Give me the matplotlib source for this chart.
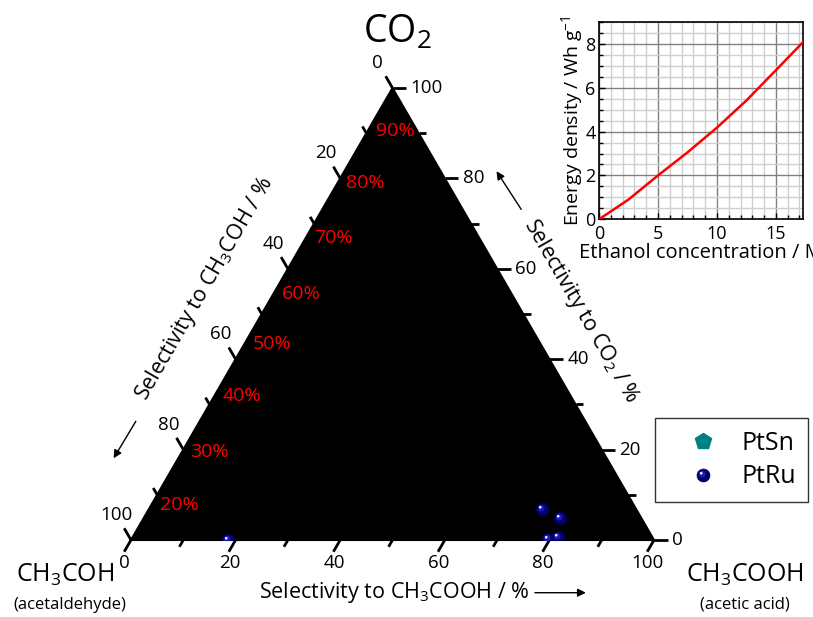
import numpy as np
import matplotlib
matplotlib.use("Agg")
import matplotlib.pyplot as plt
from matplotlib import font_manager
from matplotlib.path import Path
from matplotlib.patches import Polygon
from matplotlib.lines import Line2D
from matplotlib.ticker import MultipleLocator

available = {f.name for f in font_manager.fontManager.ttflist}
base_font = "Liberation Sans Narrow" if "Liberation Sans Narrow" in available else "Open Sans"
plt.rcParams["font.family"] = [base_font, "DejaVu Sans"]
plt.rcParams["mathtext.fontset"] = "custom"
plt.rcParams["mathtext.rm"] = base_font
plt.rcParams["mathtext.it"] = base_font
plt.rcParams["mathtext.bf"] = base_font

# ---- ternary data: selectivities in % (acetic acid, CO2; acetaldehyde is the rest)
ptru_acetic = [18.5, 75.1, 79.7, 79.6, 81.4]
ptru_co2 = [0.0, 6.8, 4.8, 0.2, 0.6]

# faradaic-efficiency annotations along the acetaldehyde edge (CO2 level of each label)
eff_labels = ["90%", "80%", "70%", "60%", "50%", "40%", "30%", "20%"]
eff_co2 = [90.5, 79.0, 66.9, 54.5, 43.3, 31.8, 19.4, 7.7]

tick_values = list(range(0, 101, 10))
label_values = [0, 20, 40, 60, 80, 100]

# ---- inset data
conc = [0, 2.5, 5, 7.5, 10, 12.5, 15, 17.3]
energy = [0, 0.9, 2.0, 3.05, 4.18, 5.42, 6.8, 8.08]

H = np.sqrt(3) / 2


def tern(acetic, co2):
    a = np.asarray(acetic, dtype=float) / 100
    c = np.asarray(co2, dtype=float) / 100
    return a + c / 2, c * H


fig = plt.figure(figsize=(8.13, 6.17), dpi=100)
fig.patch.set_facecolor("white")

ax = fig.add_axes([131 / 813, 77 / 617, 523 / 813, 452 / 617])
ax.set_xlim(0, 1)
ax.set_ylim(0, H)
ax.axis("off")

ax.add_patch(Polygon([(0, 0), (1, 0), (0.5, H)], closed=True, fc="black",
                     ec="black", lw=1.5, clip_on=False, zorder=1))

tick_fs = 13.5
for v in tick_values:
    L = 0.026 if v % 20 == 0 else 0.015
    # bottom edge: acetic acid
    x0, y0 = tern(v, 0)
    ax.plot([x0, x0 - 0.5 * L], [y0, y0 - H * L], color="black", lw=2,
            clip_on=False, solid_capstyle="butt", zorder=2)
    # right edge: CO2
    x0, y0 = tern(100 - v, v)
    ax.plot([x0, x0 + L], [y0, y0], color="black", lw=2,
            clip_on=False, solid_capstyle="butt", zorder=2)
    # left edge: acetaldehyde
    x0, y0 = tern(0, 100 - v)
    ax.plot([x0, x0 - 0.5 * L], [y0, y0 + H * L], color="black", lw=2,
            clip_on=False, solid_capstyle="butt", zorder=2)

for v in label_values:
    x0, y0 = tern(v, 0)
    ax.text(x0 - 0.012, y0 - 0.044, str(v), fontsize=tick_fs, ha="center", va="center")
    x0, y0 = tern(100 - v, v)
    ax.text(x0 + 0.034, y0, str(v), fontsize=tick_fs, ha="left", va="center")
    x0, y0 = tern(0, 100 - v)
    ax.text(x0 - 0.028, y0 + 0.048, str(v), fontsize=tick_fs, ha="center", va="center")

for lab, c in zip(eff_labels, eff_co2):
    x0, y0 = tern(0, c)
    ax.text(x0 + 0.016, y0, lab, color="red", fontsize=14, ha="left", va="center")

# vertex names
ax.text(0.51, 0.972, r"CO$_{\mathregular{2}}$", fontsize=27, ha="center", va="center")
ax.text(-0.126, -0.067, r"CH$_{\mathregular{3}}$COH", fontsize=18, ha="center", va="center")
ax.text(-0.117, -0.124, "(acetaldehyde)", fontsize=12, ha="center", va="center")
ax.text(1.174, -0.067, r"CH$_{\mathregular{3}}$COOH", fontsize=18, ha="center", va="center")
ax.text(1.174, -0.124, "(acetic acid)", fontsize=12, ha="center", va="center")

# axis titles and arrows
ax.text(0.503, -0.1, r"Selectivity to CH$_{\mathregular{3}}$COOH / %", fontsize=15.5,
        ha="center", va="center")
ax.annotate("", xy=(0.875, -0.101), xytext=(0.767, -0.101),
            arrowprops=dict(arrowstyle="-|>", color="black", lw=1, mutation_scale=12),
            annotation_clip=False)
ax.text(0.1415, 0.482, r"Selectivity to CH$_{\mathregular{3}}$COH / %", fontsize=15.5,
        ha="center", va="center", rotation=60, rotation_mode="anchor")
ax.annotate("", xy=(-0.036, 0.152), xytext=(0.012, 0.232),
            arrowprops=dict(arrowstyle="-|>", color="black", lw=1, mutation_scale=12),
            annotation_clip=False)
ax.text(0.860, 0.438, r"Selectivity to CO$_{\mathregular{2}}$ / %", fontsize=15.5,
        ha="center", va="center", rotation=-60, rotation_mode="anchor")
ax.annotate("", xy=(0.696, 0.711), xytext=(0.749, 0.629),
            arrowprops=dict(arrowstyle="-|>", color="black", lw=1, mutation_scale=12),
            annotation_clip=False)

# shaded sphere markers
ms = 9.2
mid_path = Path.circle((-0.22, 0.22), 0.55)
hl_path = Path.circle((-0.35, 0.35), 0.2)
px, py = tern(ptru_acetic, ptru_co2)
ax.plot(px, py, ls="none", marker="o", ms=ms, mfc="#00006e", mec="#00004a", mew=0.6, zorder=5)
ax.plot(px, py, ls="none", marker=mid_path, ms=ms * 0.77, mfc="#1c1ca8", mew=0, zorder=6)
ax.plot(px, py, ls="none", marker=hl_path, ms=ms * 0.55, mfc="white", mew=0, zorder=7)

# legend
h_sn = Line2D([], [], ls="none", marker="p", ms=12, mfc="#008080", mec="#008080")
h_ru = (Line2D([], [], ls="none", marker="o", ms=ms, mfc="#00006e", mec="#00004a", mew=0.6),
        Line2D([], [], ls="none", marker=mid_path, ms=ms * 0.77, mfc="#1c1ca8", mew=0),
        Line2D([], [], ls="none", marker=hl_path, ms=ms * 0.55, mfc="white", mew=0))
leg = fig.legend([h_sn, h_ru], ["PtSn", "PtRu"], loc="upper left",
                 bbox_to_anchor=(655 / 813, 1 - 418 / 617), frameon=True, fancybox=False,
                 edgecolor="black", fontsize=18, borderpad=0.5, labelspacing=0.35,
                 handlelength=2.8, handletextpad=0.15, borderaxespad=0)
leg.get_frame().set_linewidth(1.0)

# ---- inset: energy density
ax2 = fig.add_axes([599 / 813, 1 - 219.3 / 617, 204 / 813, 197.3 / 617])
ax2.plot(conc, energy, color="red", lw=1.8, zorder=3)
ax2.set_xlim(0, 17.3)
ax2.set_ylim(0, 9)
ax2.xaxis.set_major_locator(MultipleLocator(5))
ax2.xaxis.set_minor_locator(MultipleLocator(1))
ax2.yaxis.set_major_locator(MultipleLocator(2))
ax2.yaxis.set_minor_locator(MultipleLocator(0.5))
ax2.set_axisbelow(True)
ax2.grid(which="minor", color="#cfcfcf", lw=1.0)
ax2.grid(which="major", color="#808080", lw=1.0)
ax2.tick_params(which="both", direction="in", labelsize=13, width=1)
ax2.tick_params(axis="x", which="both", pad=4)
ax2.tick_params(axis="y", which="both", pad=2.5)
ax2.tick_params(which="major", length=4)
ax2.tick_params(which="minor", length=3)
for s in ax2.spines.values():
    s.set_linewidth(1.2)
ax2.set_xlabel("Ethanol concentration / M", fontsize=14.5, labelpad=0)
ax2.set_ylabel(r"Energy density / Wh g$^{\mathregular{-1}}$", fontsize=14, labelpad=0)

fig.savefig("out.png", dpi=100)
